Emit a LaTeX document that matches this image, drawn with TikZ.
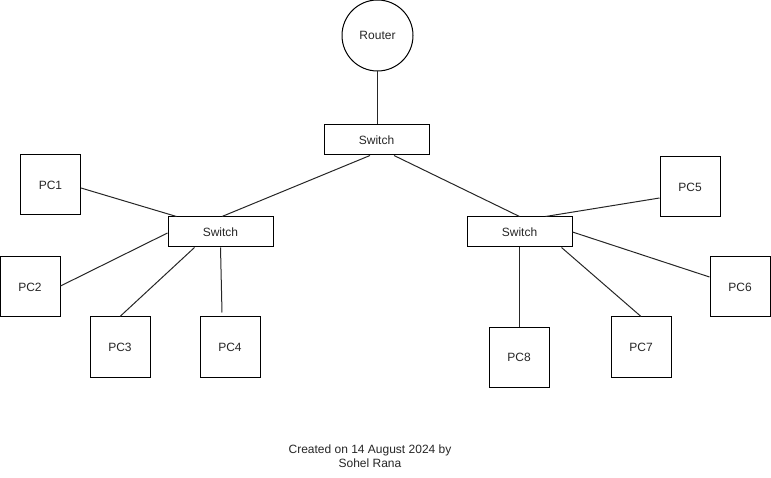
\documentclass[tikz,border=0pt]{standalone}
\usepackage{fontspec}
\setmainfont{Liberation Sans}
\usetikzlibrary{calc}
\begin{document}
\begin{tikzpicture}[x=1pt,y=-1pt,
  every node/.style={font=\fontsize{12}{14}\selectfont, text=black!85},
  pcbox/.style={draw, line width=1pt, minimum width=60pt, minimum height=60pt, inner sep=0pt},
  swbox/.style={draw, line width=1pt, minimum width=105pt, minimum height=30pt, inner sep=0pt},
  rtr/.style={draw, circle, line width=1pt, minimum size=71pt, inner sep=0pt},
  link/.style={line width=1pt, black!85}]
\useasboundingbox (0,0) rectangle (771,478);
\node[rtr] (router) at (377.5,35.5) {Router};
\node[swbox] (tsw) at (376.5,140) {Switch};
\node[swbox] (lsw) at (220.5,232) {Switch};
\node[swbox] (rsw) at (519.5,232) {Switch};
\node[pcbox] (pc1) at (50.5,185) {PC1};
\node[pcbox] (pc2) at (30,287) {PC2};
\node[pcbox] (pc3) at (120,347) {PC3};
\node[pcbox] (pc4) at (230,347) {PC4};
\node[pcbox] (pc5) at (690,187) {PC5};
\node[pcbox] (pc6) at (740,287) {PC6};
\node[pcbox] (pc7) at (641,347) {PC7};
\node[pcbox] (pc8) at (519,357) {PC8};
\node[align=center, inner sep=0pt] (caption) at (370,456.5) {Created on 14 August 2024 by\\Sohel Rana};
\draw[link] (router.south) -- (router.south |- tsw.north);
\draw[link] ($(tsw.south)+(-6.5,0)$) -- ($(lsw.north)+(1.5,0)$);
\draw[link] ($(tsw.south)+(17.5,0)$) -- (rsw.north);
\draw[link] ($(pc1.east)+(0,3)$) -- ($(lsw.north west)+(9,0)$);
\draw[link] ($(pc2.east)+(0,-1)$) -- ($(lsw.west)+(0,1)$);
\draw[link] (pc3.north) -- ($(lsw.south west)+(27,0)$);
\draw[link] (lsw.south) -- ($(pc4.north)+(-8,-4)$);
\draw[link] ($(pc5.west)+(0,11)$) -- ($(rsw.north west)+(79,0)$);
\draw[link] ($(pc6.west)+(0,-10)$) -- (rsw.east);
\draw[link] (pc7.north) -- ($(rsw.south east)+(-11,0)$);
\draw[link] (pc8.north) -- (pc8.north |- rsw.south);
\end{tikzpicture}
\end{document}
